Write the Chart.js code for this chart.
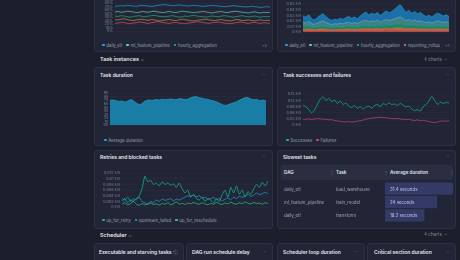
<!DOCTYPE html>
<html>
<head>
<meta charset="utf-8">
<script src="https://cdn.jsdelivr.net/npm/chart.js@4.4.1/dist/chart.umd.min.js"></script>
<style>
html,body{margin:0;padding:0;width:460px;height:260px;overflow:hidden;background:#1c1f2b;font-family:Inter,"Noto Sans",sans-serif}
.panel{position:absolute;background:#212535;border:1px solid #2b3042;border-radius:3px;box-sizing:border-box}
.ttl{position:absolute;font-size:5px;font-weight:600;color:#e6e8ef;white-space:nowrap}
.dots{position:absolute;font-size:5px;color:#6b7183;letter-spacing:-0.5px}
.sec{position:absolute;font-size:5.4px;font-weight:600;color:#e6e8ef;white-space:nowrap}
.cnt{position:absolute;font-size:4.6px;color:#858b9d;white-space:nowrap}
.leg{position:absolute;font-size:4.3px;color:#9aa0b1;white-space:nowrap;display:flex;align-items:center}
.leg span{display:flex;align-items:center;margin-right:4px}
.leg i{display:inline-block;width:2.6px;height:2.6px;border-radius:0.8px;margin-right:1.6px}
.cell{position:absolute;font-size:4.4px;color:#a4a9b8;white-space:nowrap}
.hd{position:absolute;font-size:4.6px;font-weight:600;color:#dfe2ea;white-space:nowrap}
canvas{position:absolute}
</style>
</head>
<body>

<!-- top row (cut off) -->
<div class="panel" style="left:94px;top:-20px;width:179px;height:72px"></div>
<div class="panel" style="left:277px;top:-20px;width:179px;height:72px"></div>
<canvas id="cRate" width="177" height="47" style="left:95px;top:-8px"></canvas>
<canvas id="cLoad" width="177" height="40" style="left:278px;top:0px"></canvas>
<div class="leg" id="legRate" style="left:102px;top:42.5px"></div>
<div class="cnt" style="left:262px;top:42.5px;font-size:4px">+2</div>
<div class="leg" id="legLoad" style="left:285px;top:42.5px"></div>
<div class="cnt" style="left:445px;top:42.5px;font-size:4px">+1</div>

<!-- Task instances -->
<div class="sec" style="left:100px;top:56px">Task instances <span style="color:#8a90a2;font-weight:400">&#8964;</span></div>
<div class="cnt" style="left:424px;top:56.5px">4 charts &nbsp;&#8211;</div>

<div class="panel" style="left:94px;top:67px;width:179px;height:79px"></div>
<div class="ttl" style="left:100px;top:72px">Task duration</div>
<div class="dots" style="left:262px;top:71px">···</div>
<canvas id="cDur" width="177" height="44" style="left:95px;top:89px"></canvas>
<div class="leg" id="legDur" style="left:104px;top:137.5px"></div>

<div class="panel" style="left:277px;top:67px;width:179px;height:79px"></div>
<div class="ttl" style="left:283px;top:72px">Task successes and failures</div>
<div class="dots" style="left:446px;top:71px">···</div>
<canvas id="cSucc" width="177" height="43" style="left:278px;top:90px"></canvas>
<div class="leg" id="legSucc" style="left:286px;top:137.5px"></div>

<div class="panel" style="left:94px;top:150px;width:179px;height:79px"></div>
<div class="ttl" style="left:100px;top:153.5px">Retries and blocked tasks</div>
<div class="dots" style="left:262px;top:153px">···</div>
<canvas id="cRetry" width="177" height="46" style="left:95px;top:169px"></canvas>
<div class="leg" id="legRetry" style="left:102px;top:217.5px"></div>

<div class="panel" style="left:277px;top:150px;width:179px;height:79px"></div>
<div class="ttl" style="left:283px;top:153.5px">Slowest tasks</div>
<div class="dots" style="left:446px;top:153px">···</div>
<div style="position:absolute;left:281px;top:165px;width:172px;height:15px;background:#2a2e40;border-radius:2px"></div>
<div class="hd" style="left:284px;top:170px">DAG</div>
<div class="cnt" style="left:330px;top:170px;font-size:4px">&#8942;</div>
<div class="hd" style="left:336px;top:170px">Task</div>
<div class="cnt" style="left:384px;top:170px;font-size:4px">&#8942;</div>
<div class="hd" style="left:390px;top:170px">Average duration</div>
<div class="cnt" style="left:450px;top:170px;font-size:4px">&#8942;</div>
<canvas id="cSlow" width="68" height="40" style="left:385px;top:182px"></canvas>
<div id="slowRows"></div>

<!-- Scheduler -->
<div class="sec" style="left:100px;top:231.5px">Scheduler <span style="color:#8a90a2;font-weight:400">&#8964;</span></div>
<div class="cnt" style="left:424px;top:232px">4 charts &nbsp;&#8211;</div>

<div class="panel" style="left:94px;top:243px;width:90px;height:30px"></div>
<div class="ttl" style="left:99px;top:248.5px">Executable and starving tasks <span style="color:#7d8395;font-weight:400">&#9432;</span></div>
<div class="dots" style="left:172px;top:248px">···</div>
<div class="panel" style="left:186px;top:243px;width:87px;height:30px"></div>
<div class="ttl" style="left:192px;top:248.5px">DAG run schedule delay</div>
<div class="dots" style="left:263px;top:248px">···</div>
<div class="panel" style="left:277px;top:243px;width:88px;height:30px"></div>
<div class="ttl" style="left:283px;top:248.5px">Scheduler loop duration</div>
<div class="dots" style="left:355px;top:248px">···</div>
<div class="panel" style="left:367px;top:243px;width:89px;height:30px"></div>
<div class="ttl" style="left:374px;top:248.5px">Critical section duration</div>
<div class="dots" style="left:446px;top:248px">···</div>

<script>
// time axis: 52 samples, 1.5h apart, from Jul 18 18:00
const hours = [];
for (let i = 0; i < 52; i++) hours.push(i);
const tickIdx = [4, 12, 20, 28, 36, 44];
const tickText = ['Jul 19', '12:00pm', 'Jul 20', '12:00pm', 'Jul 21', '12:00pm'];

// success rate per DAG (%)
const rateDaily = [71,72,73,72,74,73,72,71,73,74,73,72,71,72,74,75,76,75,74,73,74,75,74,73,72,73,74,73,72,71,72,73,74,73,72,71,70,71,72,73,72,71,70,69,70,71,70,69,68,69,70,69];
const rateMl = [55,56,54,55,57,56,55,53,54,56,55,54,56,57,55,54,53,55,56,54,53,55,57,56,55,54,53,54,55,56,55,53,52,54,55,56,54,53,55,56,57,55,54,53,52,54,55,53,52,54,53,54];
const rateHourly = [43,42,44,43,41,40,42,43,44,42,41,43,44,45,43,42,41,42,43,44,42,40,41,43,42,44,45,43,42,41,40,42,43,42,41,43,44,43,41,40,42,43,44,42,41,42,43,41,40,42,41,42];
const rateReport = [33,32,34,35,33,31,30,32,33,34,32,31,33,32,30,29,31,32,33,31,30,32,34,33,31,30,29,31,32,33,34,32,31,30,32,33,31,30,29,31,33,32,30,31,32,30,29,31,32,30,31,30];
const rateOther = [22,23,25,24,22,21,23,24,26,25,23,22,24,25,27,26,24,23,22,24,25,23,22,21,23,24,25,27,26,24,23,22,24,25,26,24,23,22,21,23,24,26,25,23,22,24,25,23,22,24,23,22];

// stacked load per DAG (s/s)
const loadOther = [0.0015,0.0018,0.0014,0.0016,0.0013,0.0017,0.0015,0.0019,0.0016,0.0014,0.0012,0.0015,0.0017,0.0014,0.0016,0.0018,0.0015,0.0013,0.0016,0.0014,0.0017,0.0019,0.0016,0.0018,0.0015,0.0017,0.002,0.0016,0.0018,0.0021,0.0017,0.0019,0.0022,0.0018,0.002,0.0017,0.0015,0.0018,0.0016,0.0019,0.0015,0.0017,0.0014,0.0016,0.0018,0.0015,0.0017,0.0019,0.0016,0.0015,0.0017,0.0014];
const loadReport = [0.0035,0.003,0.0038,0.0032,0.0028,0.0034,0.0037,0.004,0.0033,0.003,0.0027,0.0031,0.0029,0.0034,0.0031,0.0035,0.0038,0.0033,0.0036,0.0032,0.0038,0.0042,0.0045,0.004,0.0043,0.0041,0.0046,0.0039,0.0044,0.0048,0.0045,0.0047,0.005,0.0055,0.0058,0.005,0.0044,0.0047,0.0042,0.0045,0.004,0.0043,0.0038,0.0035,0.0037,0.0033,0.0038,0.0041,0.0039,0.0036,0.0038,0.0034];
const loadHourly = [0.005,0.0046,0.0052,0.0042,0.004,0.0045,0.0049,0.0053,0.0047,0.0043,0.0038,0.0041,0.004,0.0044,0.0041,0.0046,0.0048,0.0044,0.0047,0.0042,0.0049,0.0054,0.0057,0.0051,0.0055,0.0052,0.0058,0.005,0.0055,0.006,0.0056,0.0059,0.0063,0.0068,0.0071,0.0063,0.0056,0.0059,0.0054,0.0057,0.0052,0.0055,0.0049,0.0046,0.0048,0.0044,0.005,0.0053,0.0051,0.0047,0.005,0.0045];
const loadMl = [0.0075,0.007,0.008,0.0063,0.0058,0.0068,0.0078,0.0085,0.0073,0.0064,0.0056,0.0061,0.0059,0.0066,0.0061,0.0069,0.0074,0.0067,0.0071,0.0064,0.0076,0.0085,0.0092,0.008,0.0087,0.0082,0.009,0.0078,0.0087,0.0096,0.0089,0.0094,0.0103,0.0115,0.0122,0.0106,0.0092,0.0099,0.0087,0.0094,0.0084,0.0089,0.0079,0.0072,0.0077,0.007,0.0079,0.0086,0.0082,0.0075,0.008,0.0072];
const loadDaily = [0.0115,0.0106,0.0126,0.0087,0.0081,0.0096,0.0121,0.0133,0.0111,0.0089,0.0077,0.0082,0.0075,0.0092,0.0081,0.0092,0.0105,0.0093,0.01,0.0088,0.011,0.013,0.015,0.0121,0.014,0.0128,0.0136,0.0117,0.0136,0.0155,0.0143,0.0151,0.0172,0.0204,0.0219,0.0184,0.0153,0.0167,0.0141,0.0155,0.0139,0.0146,0.013,0.0111,0.012,0.0108,0.0126,0.0141,0.0132,0.0117,0.0125,0.0115];

// average task duration (s)
const avgDuration = [7.0,7.1,6.9,6.7,6.8,6.5,6.9,7.2,6.6,6.0,5.8,6.5,7.0,7.1,7.0,7.2,7.1,7.3,7.2,7.3,7.4,7.2,7.3,7.5,7.3,7.2,7.6,7.9,8.1,7.8,7.6,7.4,7.3,7.0,6.8,6.5,6.1,5.7,5.6,5.9,6.2,6.5,6.9,7.3,7.7,7.8,7.4,7.2,7.3,6.9,7.1,6.8];

// successes / failures (s/s)
const successes = [0.095,0.09,0.075,0.06,0.072,0.1,0.125,0.138,0.12,0.13,0.115,0.122,0.105,0.118,0.1,0.108,0.092,0.085,0.095,0.082,0.09,0.078,0.088,0.092,0.083,0.095,0.1,0.09,0.105,0.098,0.108,0.1,0.103,0.095,0.105,0.097,0.088,0.092,0.078,0.07,0.075,0.068,0.09,0.1,0.118,0.14,0.12,0.1,0.112,0.105,0.11,0.107];
const failures = [0.026,0.028,0.03,0.027,0.029,0.031,0.03,0.028,0.027,0.025,0.026,0.022,0.02,0.018,0.016,0.015,0.017,0.014,0.016,0.019,0.021,0.024,0.028,0.031,0.033,0.035,0.036,0.038,0.037,0.035,0.033,0.031,0.03,0.032,0.029,0.027,0.026,0.028,0.024,0.022,0.025,0.021,0.023,0.02,0.017,0.014,0.012,0.015,0.018,0.02,0.019,0.021];

// retries and blocked (s/s)
const upForRetry = [0.003,0.0025,0.0035,0.002,0.003,0.0025,0.004,0.0065,0.011,0.009,0.0095,0.008,0.0085,0.0075,0.009,0.008,0.0085,0.0078,0.0082,0.007,0.0085,0.0065,0.005,0.006,0.0035,0.0045,0.003,0.0025,0.0035,0.002,0.003,0.0025,0.0015,0.003,0.002,0.0045,0.006,0.0035,0.007,0.005,0.0075,0.0045,0.006,0.0035,0.0055,0.0045,0.0065,0.008,0.007,0.0088,0.0075,0.0092];
const upstreamFailed = [0.002,0.003,0.0015,0.0025,0.002,0.003,0.0035,0.002,0.0015,0.001,0.002,0.0015,0.0025,0.002,0.0028,0.0024,0.0026,0.003,0.0022,0.0028,0.0025,0.003,0.0035,0.004,0.0038,0.0042,0.0036,0.004,0.0032,0.0035,0.0028,0.003,0.0034,0.0026,0.003,0.0022,0.0028,0.0032,0.0026,0.0035,0.003,0.0038,0.0034,0.004,0.0045,0.0038,0.0042,0.005,0.0044,0.0048,0.0052,0.0046];
const upForReschedule = [0.001,0.0015,0.0008,0.0012,0.002,0.001,0.0006,0.0012,0.0008,0.001,0.0014,0.0009,0.0011,0.0007,0.0012,0.001,0.0015,0.0008,0.0012,0.0018,0.001,0.0013,0.0009,0.0014,0.0011,0.0016,0.0012,0.001,0.0015,0.0011,0.0008,0.0013,0.001,0.0016,0.0012,0.0009,0.0014,0.0011,0.0017,0.0012,0.001,0.0015,0.0012,0.0018,0.0013,0.0011,0.0016,0.0012,0.0014,0.001,0.0015,0.0012];

// slowest tasks table
const slowDags = ['daily_etl', 'ml_feature_pipeline', 'daily_etl'];
const slowTasks = ['load_warehouse', 'train_model', 'transform'];
const slowSeconds = [31.4, 24, 18.2];

// colours
const C = {
  blue: '#219fd9', teal: '#5ccfc6', green: '#16b487', orange: '#e07a48', pink: '#d65a72',
  fail: '#d43f78', green2: '#2fc48b'
};

const $ = (id) => document.getElementById(id);
const axisColor = '#7b8194';
const tickFont = { family: 'Inter', size: 3.8 };

function legend(id, items) {
  $(id).innerHTML = items.map(([c, t]) => `<span><i style="background:${c}"></i>${t}</span>`).join('');
}

function xAxis() {
  return {
    grid: { display: false }, border: { display: false },
    ticks: {
      autoSkip: false, maxRotation: 0, color: axisColor, font: tickFont, padding: 1,
      callback: (v, i) => { const k = tickIdx.indexOf(i); return k < 0 ? null : tickText[k]; }
    },
    afterFit: (s) => { s.height = 8; }
  };
}

function yAxis(max, step, fmt, w, stacked) {
  return {
    min: 0, max, stacked: !!stacked,
    grid: { color: 'rgba(255,255,255,0.045)', lineWidth: 0.5, drawTicks: false },
    border: { display: false },
    ticks: { stepSize: step, autoSkip: false, color: axisColor, font: tickFont, padding: 2, callback: fmt },
    afterFit: (s) => { s.width = w; }
  };
}

function lineChart(id, datasets, y, padRight) {
  return new Chart($(id), {
    type: 'line',
    data: { labels: hours, datasets },
    options: {
      responsive: false, animation: false,
      layout: { padding: { top: 3, right: padRight, bottom: 0, left: 0 } },
      plugins: { legend: { display: false }, tooltip: { enabled: false } },
      elements: { point: { radius: 0 }, line: { borderWidth: 0.8, tension: 0.15 } },
      scales: { x: xAxis(), y }
    }
  });
}

const ln = (data, color) => ({ data, borderColor: color, fill: false });
const area = (data, color, fillColor, fill) => ({ data, borderColor: color, backgroundColor: fillColor, fill, borderWidth: 0.6 });
const sps = (v) => v === 0 ? '0 s/s' : Number(v.toFixed(3)) + ' s/s';
const sps2 = (v) => v === 0 ? '0 s/s' : v.toFixed(2) + ' s/s';

lineChart('cRate', [
  ln(rateOther, C.pink), ln(rateReport, C.orange), ln(rateHourly, C.green),
  ln(rateMl, C.teal), ln(rateDaily, C.blue)
], yAxis(100, 10, (v) => v + '%', 20), 2);

lineChart('cLoad', [
  area(loadOther, '#d0505c', 'rgba(200,70,80,0.85)', 'origin'),
  area(loadReport, '#e27c46', 'rgba(214,110,60,0.85)', '-1'),
  area(loadHourly, '#18b888', 'rgba(22,150,112,0.85)', '-1'),
  area(loadMl, '#62d2c8', 'rgba(76,150,160,0.8)', '-1'),
  area(loadDaily, '#2aa8e2', 'rgba(28,120,180,0.9)', '-1')
], yAxis(0.05, 0.01, sps2, 25, true), 6);

lineChart('cDur', [
  area(avgDuration, '#2cb0e0', 'rgba(26,132,176,0.92)', 'origin')
], yAxis(9, 1, (v) => v + 's', 15), 6);

lineChart('cSucc', [
  ln(failures, C.fail), ln(successes, C.green)
], yAxis(0.15, 0.03, sps2, 25), 6);

lineChart('cRetry', [
  ln(upForReschedule, C.green2), ln(upstreamFailed, C.blue), ln(upForRetry, C.green)
], yAxis(0.012, 0.002, sps, 27), 4);

// slowest tasks: duration bars
new Chart($('cSlow'), {
  type: 'bar',
  data: { labels: slowTasks, datasets: [{ data: slowSeconds, backgroundColor: '#343a66', barPercentage: 0.93, categoryPercentage: 1 }] },
  options: {
    indexAxis: 'y', responsive: false, animation: false,
    layout: { padding: 0 },
    plugins: { legend: { display: false }, tooltip: { enabled: false } },
    scales: { x: { display: false, min: 0, max: 31.4 }, y: { display: false } }
  }
});

let rows = '';
slowSeconds.forEach((s, i) => {
  const top = 186.5 + i * 13.3;
  rows += `<div class="cell" style="left:284px;top:${top}px">${slowDags[i]}</div>`;
  rows += `<div class="cell" style="left:336px;top:${top}px">${slowTasks[i]}</div>`;
  rows += `<div class="cell" style="left:390px;top:${top}px;color:#c9cbec">${s} seconds</div>`;
});
$('slowRows').innerHTML = rows;

legend('legRate', [[C.blue, 'daily_etl'], [C.teal, 'ml_feature_pipeline'], [C.green, 'hourly_aggregation']]);
legend('legLoad', [[C.blue, 'daily_etl'], [C.teal, 'ml_feature_pipeline'], [C.green, 'hourly_aggregation'], [C.orange, 'reporting_rollup']]);
legend('legDur', [[C.blue, 'Average duration']]);
legend('legSucc', [[C.green, 'Successes'], [C.fail, 'Failures']]);
legend('legRetry', [[C.green, 'up_for_retry'], [C.blue, 'upstream_failed'], [C.green2, 'up_for_reschedule']]);
</script>
</body>
</html>
